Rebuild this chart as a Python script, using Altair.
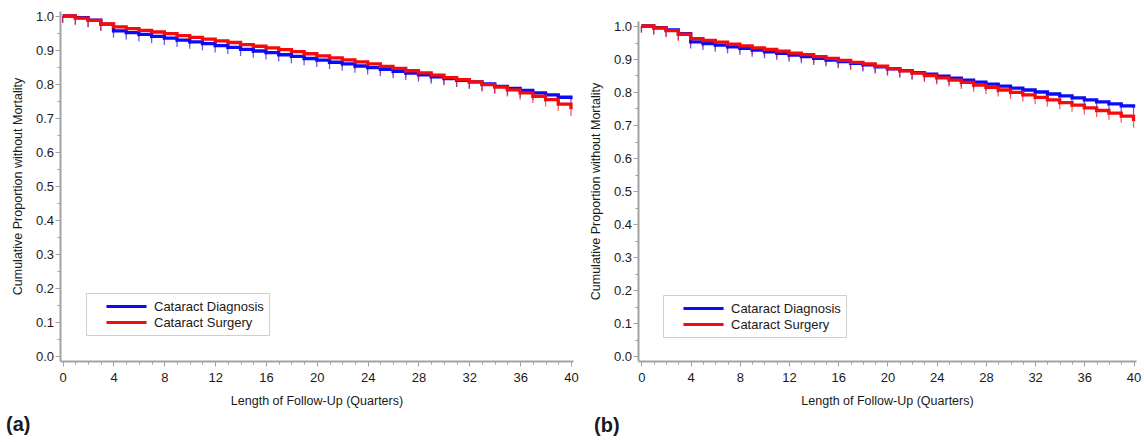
import altair as alt
import pandas as pd

# Follow-up time in quarters
quarters = list(range(41))

# Panel (a): cumulative proportion without mortality per quarter
a_diagnosis = [1.000, 0.995, 0.988, 0.976, 0.956, 0.951, 0.946, 0.940, 0.935, 0.929,
               0.924, 0.919, 0.913, 0.908, 0.902, 0.897, 0.892, 0.886, 0.881, 0.875,
               0.870, 0.864, 0.859, 0.853, 0.848, 0.843, 0.837, 0.832, 0.827, 0.821,
               0.816, 0.811, 0.806, 0.800, 0.793, 0.787, 0.781, 0.774, 0.768, 0.761,
               0.755]
a_surgery = [1.000, 0.994, 0.987, 0.977, 0.968, 0.963, 0.958, 0.953, 0.948, 0.942,
             0.937, 0.932, 0.927, 0.922, 0.916, 0.911, 0.906, 0.901, 0.895, 0.889,
             0.883, 0.877, 0.871, 0.865, 0.859, 0.852, 0.846, 0.839, 0.833, 0.826,
             0.819, 0.813, 0.806, 0.798, 0.791, 0.783, 0.774, 0.764, 0.754, 0.741,
             0.726]

# Panel (b)
b_diagnosis = [1.000, 0.995, 0.988, 0.977, 0.952, 0.947, 0.942, 0.937, 0.932, 0.927,
               0.922, 0.917, 0.912, 0.907, 0.902, 0.897, 0.892, 0.887, 0.882, 0.876,
               0.870, 0.865, 0.859, 0.854, 0.848, 0.842, 0.836, 0.830, 0.824, 0.818,
               0.812, 0.806, 0.800, 0.794, 0.788, 0.782, 0.776, 0.770, 0.764, 0.758,
               0.752]
b_surgery = [1.000, 0.994, 0.986, 0.975, 0.962, 0.956, 0.951, 0.945, 0.940, 0.934,
             0.929, 0.924, 0.918, 0.913, 0.907, 0.902, 0.896, 0.890, 0.885, 0.878,
             0.871, 0.864, 0.857, 0.850, 0.843, 0.836, 0.829, 0.821, 0.814, 0.806,
             0.799, 0.791, 0.784, 0.776, 0.768, 0.760, 0.752, 0.744, 0.736, 0.727,
             0.712]

series_names = ["Cataract Diagnosis", "Cataract Surgery"]
series_colors = ["#0b0bf5", "#f50b0b"]
panel_labels = ["(a)", "(b)"]

x_major = list(range(0, 41, 4))
y_major = [i / 10 for i in range(11)]
y_minor = [i / 20 for i in range(21)]

x_title = "Length of Follow-Up (Quarters)"
y_title = "Cumulative Proportion without Mortality"

FONT = "Liberation Sans"
TEXT = "#1a1a1a"
AXIS_GREY = "#a3a3a3"
CENSOR_DROP = 0.02  # length of the censoring tick under each step
LEGEND_LINE = "M-2.86,0H2.86"  # long flat swatch; scaled by sqrt(symbolSize)/2


def panel(diag, surg, label, width, height, x_dom, y_dom, y_rng,
          legend_xy, label_xy):
    df = pd.DataFrame({
        "quarter": quarters * 2,
        "surv": diag + surg,
        "group": [series_names[0]] * len(diag) + [series_names[1]] * len(surg),
    })
    df["low"] = df["surv"] - CENSOR_DROP

    xs = alt.Scale(domain=x_dom, nice=False, zero=False)
    ys = alt.Scale(domain=y_dom, nice=False, zero=False, range=y_rng)
    cs = alt.Scale(domain=series_names, range=series_colors)

    lines = alt.Chart(df).mark_line(
        interpolate="step-after", strokeWidth=3.3
    ).encode(
        x=alt.X("quarter:Q", scale=xs, axis=alt.Axis(
            values=x_major, title=x_title, format="d", grid=False,
            domainColor=AXIS_GREY, domainWidth=2, tickColor=AXIS_GREY,
            tickSize=5, tickWidth=1, labelPadding=5, titlePadding=10,
            labelFontSize=13, titleFontSize=12.5, titleFontWeight="normal",
            labelColor=TEXT, titleColor=TEXT, orient="bottom")),
        y=alt.Y("surv:Q", scale=ys, axis=alt.Axis(
            values=y_major, title=y_title, format=".1f", grid=False,
            domainColor=AXIS_GREY, domainWidth=2, tickColor=AXIS_GREY,
            tickSize=5, tickWidth=1, labelPadding=1.5, titlePadding=11,
            labelFontSize=13, titleFontSize=12.5, titleFontWeight="normal",
            labelColor=TEXT, titleColor=TEXT, orient="left")),
        color=alt.Color("group:N", scale=cs, legend=alt.Legend(
            title=None, orient="none", legendX=legend_xy[0],
            legendY=legend_xy[1], symbolType=LEGEND_LINE, symbolSize=196,
            symbolStrokeWidth=3, symbolFillColor="transparent",
            symbolOffset=27, labelOffset=19,
            labelFontSize=13, labelColor=TEXT, labelFont=FONT,
            padding=5, rowPadding=0, strokeColor="#cfcfcf",
            fillColor="white", cornerRadius=0)),
    )

    censor = alt.Chart(df).mark_rule(strokeWidth=1.3, opacity=0.65).encode(
        x=alt.X("quarter:Q", scale=xs, axis=alt.Axis(
            values=quarters, labels=False, domain=False, grid=False,
            title=None, tickSize=3, tickColor=AXIS_GREY, orient="bottom")),
        y=alt.Y("low:Q", scale=ys, axis=alt.Axis(
            values=y_minor, labels=False, domain=False, grid=False,
            title=None, tickSize=3, tickColor=AXIS_GREY, orient="left")),
        y2="surv:Q",
        color=alt.Color("group:N", scale=cs, legend=None),
    )

    tag = alt.Chart(pd.DataFrame({"label": [label]})).mark_text(
        fontSize=20, fontWeight="bold", align="left", baseline="middle",
        color=TEXT, font=FONT
    ).encode(
        text="label:N", x=alt.value(label_xy[0]), y=alt.value(label_xy[1])
    )

    return alt.layer(censor, lines, tag).resolve_axis(
        x="independent", y="independent"
    ).resolve_legend(color="independent").properties(width=width, height=height)


left = panel(a_diagnosis, a_surgery, panel_labels[0], 513, 350,
             [-0.21, 40.16], [-5 / 340, 1 + 5 / 340], [350, 0],
             (26, 282), (-54, 414))
right = panel(b_diagnosis, b_surgery, panel_labels[1], 498, 350,
              [-0.28, 40.2], [-5 / 330, 1 + 5 / 330], [350, 10],
              (25, 284), (-44, 415))

chart = alt.hconcat(left, right, spacing=65, bounds="flush").properties(
    padding={"left": 6, "top": 9, "right": 0, "bottom": 0}
).configure(font=FONT).configure_view(stroke=None)

chart.save("out.html", embed_options={"renderer": "svg", "actions": False})
